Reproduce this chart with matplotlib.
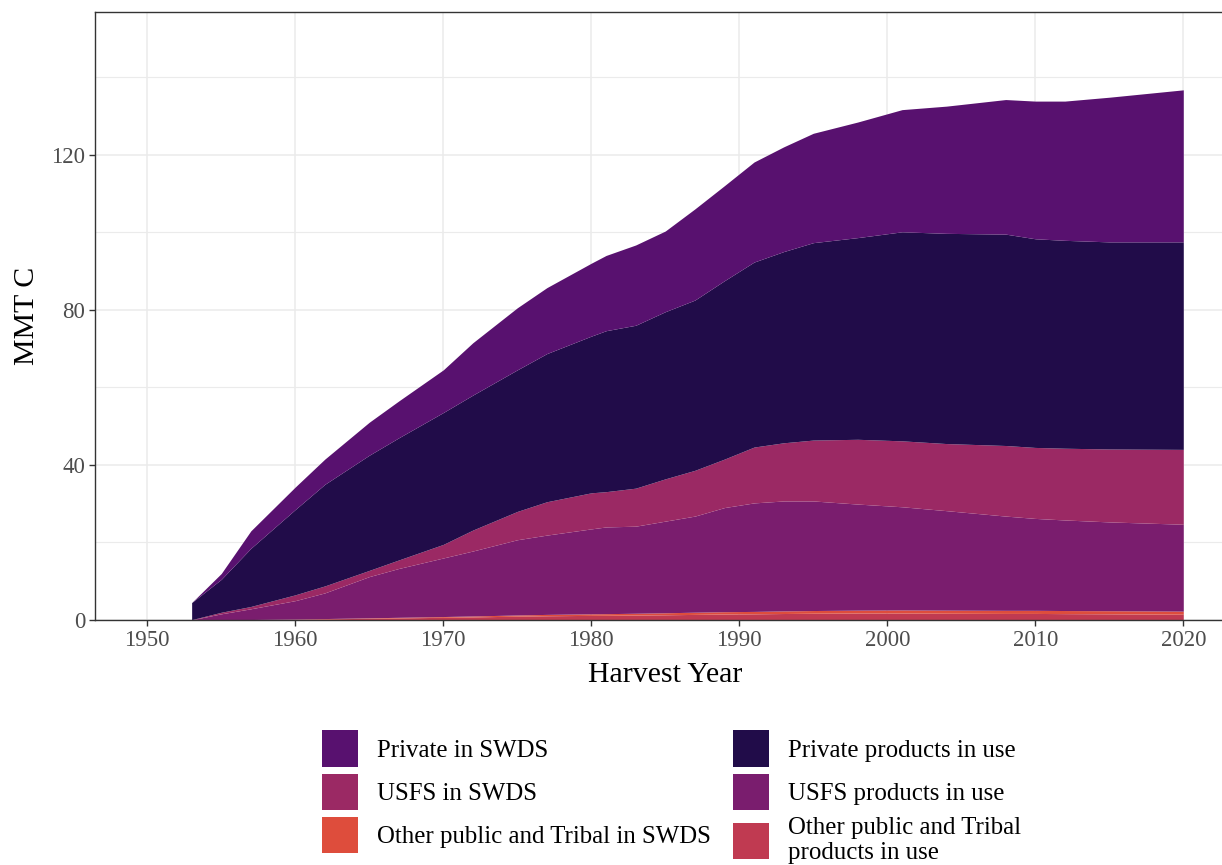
"""
Stacked carbon storage in harvested wood by ownership, 1953-2020.
"""
import matplotlib
matplotlib.use("Agg")
import matplotlib.pyplot as plt
from matplotlib.patches import Patch

years = [1953, 1955, 1957, 1960, 1962, 1965, 1967, 1970, 1972, 1975, 1977,
         1980, 1981, 1983, 1985, 1987, 1989, 1991, 1993, 1995, 1998, 2001,
         2004, 2008, 2010, 2012, 2015, 2020]

# cumulative tops of each layer (MMT C)
top_other_products = [0.0, 0.05, 0.1, 0.2, 0.3, 0.45, 0.55, 0.7, 0.8, 1.0, 1.1,
                      1.2, 1.22, 1.28, 1.35, 1.45, 1.55, 1.6, 1.68, 1.75, 1.8, 1.8,
                      1.75, 1.7, 1.7, 1.65, 1.6, 1.5]
top_other_swds = [0.0, 0.06, 0.13, 0.25, 0.38, 0.57, 0.7, 0.9, 1.05, 1.3, 1.45,
                  1.6, 1.64, 1.75, 1.87, 2.02, 2.15, 2.22, 2.35, 2.45, 2.55, 2.6,
                  2.55, 2.5, 2.5, 2.45, 2.4, 2.3]
top_usfs_products = [0.05, 1.6, 2.9, 5.0, 7.0, 11.2, 13.3, 16.0, 17.8, 20.7, 21.9,
                     23.5, 24.0, 24.2, 25.5, 26.8, 29.0, 30.2, 30.7, 30.7, 29.9, 29.2,
                     28.2, 26.8, 26.2, 25.8, 25.3, 24.7]
top_usfs_swds = [0.1, 2.0, 3.5, 6.5, 8.8, 12.8, 15.5, 19.5, 23.2, 28.0, 30.5,
                 32.8, 33.1, 34.0, 36.4, 38.6, 41.5, 44.6, 45.7, 46.4, 46.6, 46.2,
                 45.5, 45.0, 44.5, 44.3, 44.1, 44.0]
top_private_products = [4.5, 10.5, 18.5, 28.5, 35.0, 42.5, 47.0, 53.5, 58.0, 64.5, 68.7,
                        73.2, 74.6, 76.0, 79.5, 82.5, 87.5, 92.3, 95.0, 97.3, 98.6, 100.1,
                        99.7, 99.5, 98.3, 97.9, 97.5, 97.5]
top_private_swds = [4.5, 12.0, 23.0, 34.3, 41.5, 51.0, 56.5, 64.5, 71.5, 80.5, 85.7,
                    92.0, 94.0, 96.7, 100.3, 106.0, 112.0, 118.1, 122.0, 125.5, 128.4, 131.6,
                    132.5, 134.2, 133.8, 133.8, 134.8, 136.7]

labels = ["Other public and Tribal\nproducts in use", "Other public and Tribal in SWDS",
          "USFS products in use", "USFS in SWDS",
          "Private products in use", "Private in SWDS"]
colors = ["#C03A51", "#DE4D3C", "#7A1D6E", "#9B2964", "#210C49", "#58116F"]

plt.rcParams['font.family'] = ['Liberation Serif', 'DejaVu Serif']

fig = plt.figure(figsize=(12.22, 8.65), dpi=100)
ax = fig.add_axes([0.0781, 0.2832, 0.9326, 0.7035])

tops = [top_other_products, top_other_swds, top_usfs_products,
        top_usfs_swds, top_private_products, top_private_swds]
lower = [0.0] * len(years)
for top, col in zip(tops, colors):
    ax.fill_between(years, lower, top, color=col, linewidth=0, zorder=2)
    lower = top

ax.set_xlim(1946.5, 2023.5)
ax.set_ylim(0, 156.9)
ax.set_xticks(range(1950, 2021, 10))
ax.set_yticks([0, 40, 80, 120])
ax.set_yticks([20, 60, 100, 140], minor=True)
ax.grid(True, which='major', color='#EBEBEB', linewidth=1.1, zorder=0)
ax.grid(True, which='minor', axis='y', color='#EBEBEB', linewidth=0.8, zorder=0)
ax.set_axisbelow(True)
ax.tick_params(axis='both', which='major', labelsize=16.5, labelcolor='#4D4D4D',
               color='#333333', length=4, width=1)
ax.tick_params(axis='y', which='minor', length=0)
for s in ax.spines.values():
    s.set_color('#333333')
    s.set_linewidth(1)

ax.set_xlabel('Harvest Year', fontsize=21.5, labelpad=7.5)
ax.set_ylabel('MMT C', fontsize=21.5, labelpad=8)

# legend: filled column-wise, two columns
order = [5, 3, 1, 4, 2, 0]
handles = [Patch(facecolor=colors[i], edgecolor='none') for i in order]
fig.legend(handles, [labels[i] for i in order], ncol=2, loc='upper left',
           bbox_to_anchor=(0.2635, 0.1557), frameon=False, fontsize=17.9,
           handlelength=1.45, handleheight=1.88, handletextpad=0.78,
           columnspacing=0.86, labelspacing=0.27, borderpad=0, borderaxespad=0)

fig.savefig('out.png', dpi=100)
